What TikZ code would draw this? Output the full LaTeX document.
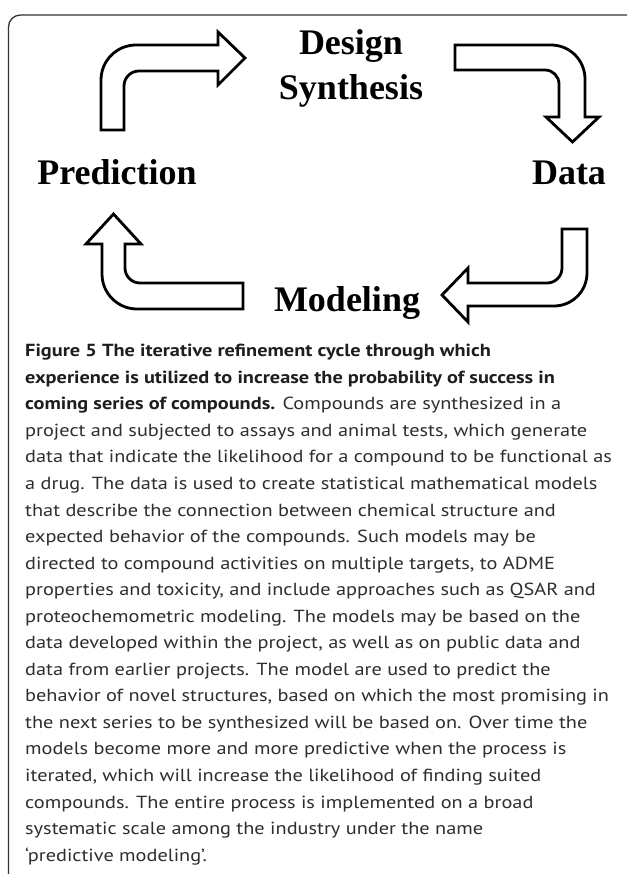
\documentclass[tikz,border=0pt]{standalone}
\usepackage{fontspec}
\setmainfont{Liberation Serif}
\newfontfamily\capfont{PT Sans}
\definecolor{capbold}{HTML}{1E1E1E}
\definecolor{capreg}{HTML}{2E2E2E}
\definecolor{framecol}{HTML}{333333}
\newlength\capw
\newcommand\capfit[1]{\scalebox{\capsx}[1]{#1}}
\tikzset{
  bigarrow/.style={draw=black, line width=2.8pt, fill=white, line join=miter},
  steplabel/.style={font=\bfseries\fontsize{36}{36}\selectfont, anchor=base, inner sep=0pt},
  capline/.style={anchor=base west, inner sep=0pt, font=\capfont\fontsize{17.5}{20}\selectfont, text=capreg},
  boxframe/.style={draw=framecol, line width=1.3pt, rounded corners=12pt}
}
\begin{document}
\settowidth\capw{\capfont\fontsize{17.5}{20}\selectfont data that indicate the likelihood for a compound to be functional as}%
\pgfmathsetmacro\capsx{586.7/\capw}%
\begin{tikzpicture}[x=1pt,y=-1pt]
\useasboundingbox (0,0) rectangle (627,874);
\clip (0,0) rectangle (627,874);
\fill[white] (0,0) rectangle (627,874);
\draw[boxframe] (8.5,15) rectangle (640,890);

% labels
\node[steplabel] (design) at (351,55) {Design};
\node[steplabel] (synth) at (351,100) {Synthesis};
\node[steplabel] (pred) at (117,185) {Prediction};
\node[steplabel] (data) at (569,185) {Data};
\node[steplabel] (model) at (347,311) {Modeling};

% arrow Prediction -> Design
\draw[bigarrow] (101,130) -- (101,80) .. controls (101,60.7) and (116.7,45) .. (136,45)
  -- (218,45) -- (218,32) -- (245,58) -- (218,85) -- (218,71) -- (139,71)
  .. controls (130.7,71) and (124,77.7) .. (124,86) -- (124,130) -- cycle;
% arrow Design -> Data
\draw[bigarrow] (455,45) -- (551,45) .. controls (569.8,45) and (585,60.2) .. (585,79)
  -- (585,117) -- (599,117) -- (572.5,142) -- (546,117) -- (559,117) -- (559,84)
  .. controls (559,76.3) and (552.7,70) .. (545,70) -- (455,70) -- cycle;
% arrow Data -> Modeling
\draw[bigarrow] (562,229) -- (587,229) -- (587,273) .. controls (587,291.2) and (572.2,306) .. (554,306)
  -- (468,306) -- (468,322) -- (442,295) -- (468,268) -- (468,283) -- (547,283)
  .. controls (555.3,283) and (562,276.3) .. (562,268) -- cycle;
% arrow Modeling -> Prediction
\draw[bigarrow] (243,283) -- (140,283) .. controls (131.7,283) and (125,276.3) .. (125,268)
  -- (125,244) -- (141,244) -- (113.5,214) -- (86,244) -- (102,244) -- (102,274)
  .. controls (102,293.3) and (117.7,309) .. (137,309) -- (243,309) -- cycle;

% caption
\node[capline] (c1) at (25,356.7) {\capfit{\textcolor{capbold}{\bfseries Figure 5 The iterative refinement cycle through which}}};
\node[capline] (c2) at (25,383.25) {\capfit{\textcolor{capbold}{\bfseries experience is utilized to increase the probability of success in}}};
\node[capline] (c3) at (25,409.8) {\capfit{\textcolor{capbold}{\bfseries coming series of compounds.} Compounds are synthesized in a}};
\node[capline] (c4) at (25,436.35) {\capfit{project and subjected to assays and animal tests, which generate}};
\node[capline] (c5) at (25,462.9) {\capfit{data that indicate the likelihood for a compound to be functional as}};
\node[capline] (c6) at (25,489.45) {\capfit{a drug. The data is used to create statistical mathematical models}};
\node[capline] (c7) at (25,516.0) {\capfit{that describe the connection between chemical structure and}};
\node[capline] (c8) at (25,542.55) {\capfit{expected behavior of the compounds. Such models may be}};
\node[capline] (c9) at (25,569.1) {\capfit{directed to compound activities on multiple targets, to ADME}};
\node[capline] (c10) at (25,595.65) {\capfit{properties and toxicity, and include approaches such as QSAR and}};
\node[capline] (c11) at (25,622.2) {\capfit{proteochemometric modeling. The models may be based on the}};
\node[capline] (c12) at (25,648.75) {\capfit{data developed within the project, as well as on public data and}};
\node[capline] (c13) at (25,675.3) {\capfit{data from earlier projects. The model are used to predict the}};
\node[capline] (c14) at (25,701.85) {\capfit{behavior of novel structures, based on which the most promising in}};
\node[capline] (c15) at (25,728.4) {\capfit{the next series to be synthesized will be based on. Over time the}};
\node[capline] (c16) at (25,754.95) {\capfit{models become more and more predictive when the process is}};
\node[capline] (c17) at (25,781.5) {\capfit{iterated, which will increase the likelihood of finding suited}};
\node[capline] (c18) at (25,808.05) {\capfit{compounds. The entire process is implemented on a broad}};
\node[capline] (c19) at (25,834.6) {\capfit{systematic scale among the industry under the name}};
\node[capline] (c20) at (25,861.15) {\capfit{‘predictive modeling’.}};
\end{tikzpicture}
\end{document}
